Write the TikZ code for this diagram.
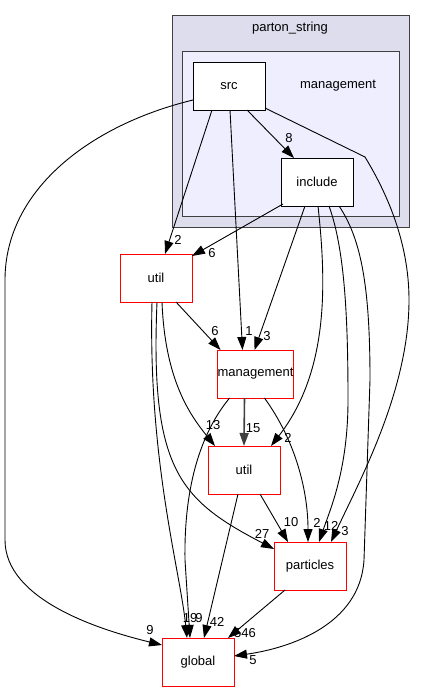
\documentclass[tikz,border=0pt]{standalone}
\usepackage{fontspec}
\setmainfont{Liberation Sans}
\usetikzlibrary{arrows.meta,calc}
\definecolor{clusterouter}{HTML}{DDDDEE}
\definecolor{clusterinner}{HTML}{EEEEFF}
\definecolor{clusterline}{HTML}{404040}

\begin{document}
\begin{tikzpicture}[x=1pt,y=-1pt,outer sep=0pt,font=\fontsize{13}{15}\selectfont]
\tikzstyle{dir}=[draw=black, fill=white, line width=0.9pt, minimum width=72pt,
    minimum height=48pt, inner sep=0pt, text centered]
\tikzstyle{ext}=[dir, draw=red]
\tikzstyle{dep}=[draw, line width=0.9pt, -{Triangle[length=13pt,width=9pt]}]
\tikzstyle{cnt}=[inner sep=0pt]
\useasboundingbox (0,0) rectangle (425,692);
% clusters
\draw[clusterline, fill=clusterouter, line width=1pt] (172,16) rectangle (409,228);
\node (pslabel) [cnt] at (290,28) {parton\_string};
\draw[clusterline, fill=clusterinner, line width=1pt] (182,52) rectangle (399,217);
\node (mglabel) [cnt] at (338,86) {management};
% directories
\node (src) [dir] at (229,86) {src};
\node (include) [dir] at (317,182) {include};
\node (util) [ext] at (156,278) {util};
\node (mgmt) [ext, minimum width=73pt] at (255.5,374) {management};
\node (utilm) [ext] at (244,470) {util};
\node (particles) [ext] at (310,566) {particles};
\node (global) [ext] at (198,662) {global};
% src
\draw[dep] ($(src.south)+(18,0)$) -- ($(include.north)+(-23,0)$);
\draw[dep] ($(src.south)+(-17,0)$) -- ($(util.north)+(9,0)$);
\draw[dep] ($(src.south)+(1,0)$) -- ($(mgmt.north)+(-13,0)$);
\draw[dep] ($(src.west)+(0,14)$) .. controls (90,125) and (5,190) .. (5,280) -- (5,540)
    .. controls (5,600) and (100,630) .. ($(global.west)+(0,-17)$);
\draw[dep] ($(src.east)+(0,22)$) -- (365,157) .. controls (385,190) and (409,240) .. (409,300)
    .. controls (409,390) and (360,480) .. ($(particles.north)+(21,0)$);
% include
\draw[dep] ($(include.south west)+(2,-2)$) -- ($(util.east)+(0,-22)$);
\draw[dep] ($(include.south)+(-12,0)$) -- ($(mgmt.north)+(-1,0)$);
\draw[dep] ($(include.south)+(1,0)$) .. controls (326,280) and (330,370) .. ($(utilm.north)+(27,0)$);
\draw[dep] ($(include.south)+(12,0)$) .. controls (345,250) and (348,320) .. (348,400)
    .. controls (348,470) and (330,510) .. ($(particles.north)+(9,0)$);
\draw[dep] ($(include.south)+(22,0)$) .. controls (362,240) and (370,290) .. (370,380) -- (364,560)
    .. controls (360,625) and (290,648) .. ($(global.east)+(0,-6)$);
% util
\draw[dep] ($(util.south)+(20,0)$) -- ($(mgmt.north west)+(3,0)$);
\draw[dep] ($(util.south)+(6,0)$) .. controls (165,380) and (190,415) .. ($(utilm.north west)+(7,0)$);
\draw[dep] ($(util.south)+(1,0)$) .. controls (150,470) and (180,500) .. ($(particles.west)+(0,-17)$);
\draw[dep] ($(util.south)+(-4,0)$) .. controls (148,460) and (180,570) .. ($(global.north)+(-11,0)$);
% management
\draw[dep] ($(mgmt.south west)+(12,0)$) .. controls (195,440) and (184,500) .. (185,560)
    -- ($(global.north)+(-8,0)$);
\draw[dep, draw=black!75, line width=1.6pt] ($(mgmt.south)+(-11,0)$) -- (utilm.north);
\draw[dep] ($(mgmt.south east)+(-29,0)$) .. controls (295,440) and (308,490) .. ($(particles.north)+(-2,0)$);
% util (management)
\draw[dep] ($(utilm.south)+(16,0)$) -- ($(particles.north)+(-22,0)$);
\draw[dep] ($(utilm.south)+(-6,0)$) -- ($(global.north)+(6,0)$);
% particles
\draw[dep] ($(particles.south west)+(11,0)$) -- ($(global.north east)+(-6,0)$);
% counts
\node (n8) [cnt] at (289,138) {8};
\node (n2a) [cnt] at (178,240) {2};
\node (n6a) [cnt] at (212,253) {6};
\node (n1) [cnt] at (249,331) {1};
\node (n3a) [cnt] at (267,336) {3};
\node (n6b) [cnt] at (215,331) {6};
\node (n13) [cnt] at (213,425) {13};
\node (n15) [cnt] at (253,428) {15};
\node (n2b) [cnt] at (288,438) {2};
\node (n10) [cnt] at (291,522) {10};
\node (n2c) [cnt] at (317,523) {2};
\node (n12) [cnt] at (331,526) {12};
\node (n3b) [cnt] at (345,531) {3};
\node (n27) [cnt] at (262,534) {27};
\node (n9a) [cnt] at (150,630) {9};
\node (n19) [cnt] at (190,618) {19};
\node (n9b) [cnt] at (199,618) {9};
\node (n42) [cnt] at (217,622) {42};
\node (n546) [cnt] at (245,633) {546};
\node (n5) [cnt] at (253,660) {5};
\end{tikzpicture}
\end{document}
